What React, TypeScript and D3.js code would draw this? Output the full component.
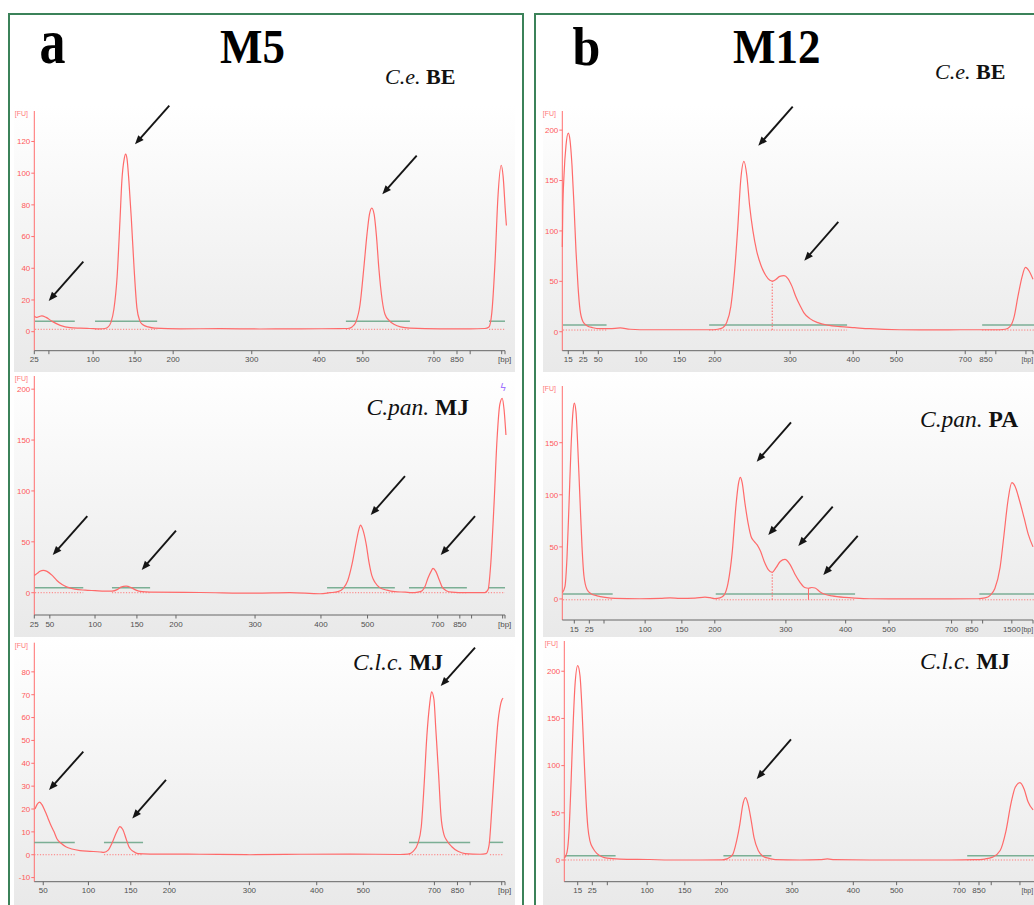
import React from "react";
import * as d3 from "d3";

type Pt = [number, number];
type Tick = [number, string];
type Win = [number, number];
type Arrow = [number, number, number, number];
type Split = [number, number, boolean];

// ---------------- data (x: migration position, % of run window; y: FU) ----------------
const xTicksA1: Tick[] = [[0, "25"], [3.1, ""], [12.5, "100"], [21.4, "150"], [29.5, "200"], [46.2, "300"], [60.5, "400"], [69.8, "500"], [84.9, "700"], [89.8, "850"], [92.6, ""], [99.3, ""]];
const xTicksA2: Tick[] = [[0, "25"], [3.3, "50"], [12.9, "100"], [21.8, "150"], [30.1, "200"], [46.9, "300"], [60.9, "400"], [70.8, "500"], [85.7, "700"], [90.4, "850"], [92.9, ""], [99.5, ""]];
const xTicksA3: Tick[] = [[1.9, "50"], [11.5, "100"], [20.5, "150"], [28.7, "200"], [45.7, "300"], [60.0, "400"], [69.9, "500"], [85.0, "700"], [89.9, "850"], [92.6, ""], [99.3, ""]];
const xTicksB1: Tick[] = [[1.27, "15"], [4.46, "25"], [7.65, "50"], [16.7, "100"], [24.9, "150"], [32.4, "200"], [48.4, "300"], [61.8, "400"], [71.0, "500"], [85.6, "700"], [90.0, "850"], [92.1, ""], [98.5, ""]];
const xTicksB2: Tick[] = [[2.55, "15"], [5.74, "25"], [8.86, ""], [17.6, "100"], [25.4, "150"], [32.4, "200"], [47.5, "300"], [60.2, "400"], [69.4, "500"], [82.7, "700"], [87.0, "850"], [89.3, ""], [95.5, "1500"]];
const xTicksB3: Tick[] = [[2.85, "15"], [5.95, "25"], [9.14, ""], [17.6, "100"], [25.6, "150"], [33.4, "200"], [48.4, "300"], [61.4, "400"], [70.6, "500"], [83.9, "700"], [88.1, "850"], [90.7, ""], [96.8, ""]];

const yTicksA1 = [0, 20, 40, 60, 80, 100, 120];
const yTicksA2 = [0, 50, 100, 150, 200];
const yTicksA3 = [-10, 0, 10, 20, 30, 40, 50, 60, 70, 80];
const yTicksB1 = [0, 50, 100, 150, 200];
const yTicksB2 = [0, 50, 100, 150];
const yTicksB3 = [0, 50, 100, 150, 200];

const yDomainA1: Pt = [-12, 136.7];
const yDomainA2: Pt = [-21.9, 209];
const yDomainA3: Pt = [-11.8, 91];
const yDomainB1: Pt = [-18.8, 215];
const yDomainB2: Pt = [-20.2, 200.6];
const yDomainB3: Pt = [-23, 227.8];

const traceA1: Pt[] = [[0, 10], [0.4, 9], [1.0, 9.5], [1.6, 10], [2.5, 9], [3.8, 6.5], [5.5, 4], [7.6, 2.5], [9.7, 2.2], [11.8, 2], [14.0, 1.8], [15.0, 2], [15.7, 3], [16.3, 6], [16.9, 14], [17.6, 35], [18.2, 70], [18.6, 95], [19.1, 109], [19.4, 112], [19.7, 109], [20.1, 95], [20.6, 72], [21.2, 40], [21.8, 15], [22.4, 7], [23.0, 4.5], [24.2, 3], [25.6, 2.2], [31.0, 1.8], [39.5, 1.9], [47.9, 1.7], [56.4, 1.8], [64.9, 1.9], [66.6, 2], [67.5, 3], [68.3, 6], [69.2, 17], [70.0, 40], [70.7, 62], [71.2, 74], [71.7, 78], [72.2, 74], [72.7, 60], [73.2, 40], [73.9, 20], [74.5, 11], [75.4, 7], [76.5, 4.5], [77.8, 3], [79.8, 2.2], [86.2, 1.8], [92.6, 1.8], [95.7, 2], [96.6, 3], [97.2, 12], [97.9, 45], [98.5, 85], [99.2, 105], [99.6, 98], [100.1, 75], [100.3, 67]];
const traceA2: Pt[] = [[0, 17], [0.6, 19], [1.2, 21], [1.9, 22], [2.7, 21], [3.8, 17], [4.8, 12], [5.9, 8], [7.0, 5.5], [8.6, 3.5], [10.8, 2.5], [12.9, 2], [15.0, 1.5], [16.5, 1.5], [17.6, 3], [18.4, 5.5], [19.5, 6.5], [20.6, 5], [21.6, 2.5], [22.9, 1], [24.6, 0.5], [35.2, 0.2], [46.9, -0.5], [54.3, 0], [60.7, -1], [62.8, 0], [64.5, 1], [65.6, 4], [66.6, 12], [67.5, 28], [68.4, 50], [69.0, 63], [69.3, 66.5], [69.8, 62], [70.5, 48], [71.1, 30], [71.7, 17], [72.4, 10], [73.4, 5], [74.9, 2.5], [76.6, 1], [78.8, 0.5], [80.2, 0], [81.5, 0.5], [82.4, 2], [83.0, 6], [83.6, 14], [84.3, 21], [84.7, 24], [85.3, 21], [86.0, 13], [86.6, 6], [87.5, 2], [88.7, 0.5], [91.5, 0], [95.7, 0], [96.4, 3], [97.0, 30], [97.7, 90], [98.3, 150], [98.9, 185], [99.4, 191], [99.8, 180], [100.2, 155]];
const traceA3: Pt[] = [[0.15, 20], [0.6, 22], [1.1, 23], [1.6, 22], [2.3, 19], [2.9, 16], [3.5, 13], [4.2, 10], [4.8, 7], [5.7, 5], [6.7, 3.5], [8.0, 2.5], [9.7, 1.8], [11.8, 1.5], [14.0, 1.2], [14.8, 1], [15.7, 2], [16.5, 5], [17.4, 9.5], [18.2, 12.3], [18.8, 11], [19.5, 7], [20.1, 3.5], [21.0, 1.5], [22.0, 0.5], [24.6, 0.3], [35.2, 0.2], [45.8, 0], [56.5, 0.2], [67.1, 0.3], [77.7, 0.1], [79.4, 0.3], [80.5, 1.5], [81.5, 5], [82.2, 12], [82.8, 30], [83.4, 52], [84.0, 66], [84.4, 71.3], [84.9, 68], [85.3, 55], [85.9, 35], [86.4, 17], [87.0, 9], [87.7, 6], [88.7, 3.5], [90.0, 1.5], [91.5, 0.5], [94.7, 0.2], [96.0, 0.5], [96.6, 4], [97.2, 20], [97.9, 42], [98.5, 58], [98.9, 64], [99.4, 68], [99.6, 68.5]];
const traceB1: Pt[] = [[0, 84], [0.1, 120], [0.36, 155], [0.79, 185], [1.27, 197], [1.64, 190], [2.06, 165], [2.49, 125], [2.91, 80], [3.34, 45], [3.76, 22], [4.4, 10], [5.25, 6], [6.5, 4], [8.0, 3], [10.1, 3], [12.3, 3.8], [14.4, 2.5], [18.6, 2], [25.0, 2], [31.3, 2], [33.0, 2.5], [34.1, 4], [34.9, 9], [35.8, 25], [36.6, 60], [37.3, 105], [37.9, 150], [38.6, 169], [39.2, 155], [39.8, 125], [40.5, 100], [41.3, 80], [42.2, 66], [43.2, 56], [44.1, 51], [44.6, 50.3], [45.4, 52], [46.2, 55], [47.1, 55.6], [47.9, 53], [48.8, 45], [49.6, 35], [50.5, 26], [51.3, 19], [52.6, 13], [54.3, 9], [56.4, 6.5], [59.0, 5], [62.1, 4], [65.3, 3], [71.7, 2], [78.1, 1.8], [84.5, 2], [91.9, 2], [94.1, 2.5], [95.1, 5], [96.0, 15], [96.8, 35], [97.7, 55], [98.4, 63.8], [99.2, 60], [100.0, 52]];
const traceB2: Pt[] = [[0.04, 6], [0.57, 12], [1.0, 40], [1.42, 90], [1.85, 145], [2.27, 180], [2.55, 188], [2.9, 180], [3.3, 145], [3.76, 95], [4.19, 50], [4.6, 22], [5.25, 9], [6.1, 5], [7.4, 3], [9.1, 1.5], [11.2, 0.5], [16.5, 0.2], [20.8, 0.5], [22.9, 1], [25.0, 0.5], [28.2, 0.8], [30.3, 1.8], [31.4, 1.2], [32.4, 0.3], [33.5, 1], [34.4, 4], [35.2, 15], [36.1, 45], [36.9, 90], [37.4, 110], [37.8, 116.8], [38.2, 112], [38.8, 92], [39.5, 72], [40.1, 60], [40.8, 55], [41.4, 52], [42.1, 46], [42.9, 36], [43.8, 28], [44.6, 25.6], [45.4, 30], [46.3, 36], [47.3, 38], [48.4, 33], [49.4, 24], [50.5, 16], [51.5, 11], [52.3, 10.3], [53.0, 11], [53.7, 10.5], [54.7, 7], [55.8, 4.5], [57.3, 3], [60.0, 1.5], [62.2, 0.8], [65.3, 0.2], [71.7, 0], [82.3, 0], [88.3, 0.2], [89.8, 1], [90.9, 3.5], [91.9, 10], [93.0, 30], [93.8, 60], [94.7, 95], [95.5, 111.6], [96.2, 108], [97.1, 95], [98.1, 78], [99.0, 62], [100.0, 50]];
const traceB3: Pt[] = [[0.04, 2], [0.57, 8], [1.0, 30], [1.42, 80], [1.85, 140], [2.27, 185], [2.85, 206], [3.34, 195], [3.76, 160], [4.19, 110], [4.6, 65], [5.0, 35], [5.46, 20], [6.16, 12], [6.9, 7], [8.0, 3.5], [9.07, 2], [11.8, 1], [18.2, 0.5], [22.4, 0], [28.8, 0], [33.5, 0.2], [34.7, 1.5], [35.8, 6], [36.6, 20], [37.3, 38], [37.9, 58], [38.5, 66], [39.0, 60], [39.7, 42], [40.3, 24], [41.2, 10], [42.2, 4], [43.7, 1.5], [44.8, 0.3], [50.0, 0], [54.3, 0.3], [55.9, 1.2], [57.4, 0.3], [64.9, 0], [81.9, 0], [87.2, 0.3], [89.3, 1], [91.0, 3], [92.6, 10], [93.8, 30], [94.9, 60], [95.8, 77], [96.8, 82], [97.7, 75], [98.5, 62], [99.6, 53]];

const windowsA1: Win[] = [[0.15, 8.6], [12.9, 26.1], [66.2, 79.8], [96.6, 100]];
const windowsA2: Win[] = [[0.15, 10.4], [16.5, 24.6], [62.2, 76.6], [79.6, 91.9], [96.4, 100]];
const windowsA3: Win[] = [[0, 8.6], [14.8, 23.1], [79.6, 92.6], [96.8, 99.6]];
const windowsB1: Win[] = [[0.15, 9.4], [31.2, 60.5], [89.2, 101]];
const windowsB2: Win[] = [[0.15, 10.7], [32.6, 62.2], [88.6, 101]];
const windowsB3: Win[] = [[0.15, 10.9], [33.8, 44.0], [85.6, 101]];

const splitsB1: Split[] = [[44.6, 50.3, true]];
const splitsB2: Split[] = [[44.6, 25.6, true], [52.3, 10.3, false]];

const arrowsA1: Arrow[] = [[10.41, 44.2, 3.06, 19.4], [28.68, 142.6, 21.39, 118.2], [81.24, 111.0, 73.93, 86.7]];
const arrowsA2: Arrow[] = [[11.26, 75.3, 3.91, 37.0], [30.1, 60.9, 22.82, 22.3], [78.75, 114.6, 71.47, 76.3], [93.63, 75.3, 86.34, 37.0]];
const arrowsA3: Arrow[] = [[10.41, 45.1, 3.12, 28.3], [27.98, 32.7, 20.82, 15.9], [93.63, 90.6, 86.34, 73.8]];
const arrowsB1: Arrow[] = [[48.95, 223.2, 41.64, 184.5], [58.64, 109.1, 51.41, 70.4]];
const arrowsB2: Arrow[] = [[48.59, 169.6, 41.3, 131.8], [51.07, 98.8, 43.76, 61.4], [57.45, 88.6, 50.14, 50.9], [62.76, 60.5, 55.45, 23.0]];
const arrowsB3: Arrow[] = [[48.16, 127.9, 40.88, 85.8]];

// ---------------- layout ----------------
const PLOT_W = 470.7;
const SERIF = "'Liberation Serif', 'Times New Roman', serif";
const SANS = "'Liberation Sans', Arial, sans-serif";
const TRACE = "#ff6a6a";

interface PlotCfg {
  key: string;
  left: number; top: number; bottom: number;
  bg: [number, number, number, number];
  yDomain: Pt; yTicks: number[]; xTicks: Tick[];
  trace: Pt[]; windows: Win[]; greenFU: number; baseFU: number;
  splits: Split[]; arrows: Arrow[];
  species: string; site: string; lx: number; ly: number; lsize: number;
  marker?: Pt;
}

const plots: PlotCfg[] = [
  { key: "a1", left: 34.3, top: 115, bottom: 350.7, bg: [14, 105, 501, 267], yDomain: yDomainA1, yTicks: yTicksA1, xTicks: xTicksA1, trace: traceA1, windows: windowsA1, greenFU: 6.6, baseFU: 1.5, splits: [], arrows: arrowsA1, species: "C.e.", site: "BE", lx: 385, ly: 84, lsize: 22 },
  { key: "a2", left: 34.3, top: 380, bottom: 615, bg: [14, 372, 501, 265], yDomain: yDomainA2, yTicks: yTicksA2, xTicks: xTicksA2, trace: traceA2, windows: windowsA2, greenFU: 4.9, baseFU: 0, splits: [], arrows: arrowsA2, species: "C.pan.", site: "MJ", lx: 366.5, ly: 415, lsize: 23.5, marker: [99.6, 198] },
  { key: "a3", left: 34.3, top: 646.7, bottom: 881.7, bg: [14, 637, 501, 268], yDomain: yDomainA3, yTicks: yTicksA3, xTicks: xTicksA3, trace: traceA3, windows: windowsA3, greenFU: 5.4, baseFU: 0, splits: [], arrows: arrowsA3, species: "C.l.c.", site: "MJ", lx: 353, ly: 670, lsize: 23.5 },
  { key: "b1", left: 562.3, top: 115, bottom: 350.7, bg: [543, 105, 500, 267], yDomain: yDomainB1, yTicks: yTicksB1, xTicks: xTicksB1, trace: traceB1, windows: windowsB1, greenFU: 6.6, baseFU: 1.7, splits: splitsB1, arrows: arrowsB1, species: "C.e.", site: "BE", lx: 935, ly: 79, lsize: 22 },
  { key: "b2", left: 562.3, top: 390, bottom: 620, bg: [543, 372, 500, 265], yDomain: yDomainB2, yTicks: yTicksB2, xTicks: xTicksB2, trace: traceB2, windows: windowsB2, greenFU: 4.8, baseFU: -0.8, splits: splitsB2, arrows: arrowsB2, species: "C.pan.", site: "PA", lx: 920, ly: 426.5, lsize: 23.5 },
  { key: "b3", left: 564.3, top: 645, bottom: 881.7, bg: [543, 637, 500, 268], yDomain: yDomainB3, yTicks: yTicksB3, xTicks: xTicksB3, trace: traceB3, windows: windowsB3, greenFU: 4.6, baseFU: 0, splits: [], arrows: arrowsB3, species: "C.l.c.", site: "MJ", lx: 920, ly: 669, lsize: 23.5 },
];

function ArrowMark({ x1, y1, x2, y2 }: { x1: number; y1: number; x2: number; y2: number }) {
  const dx = x2 - x1, dy = y2 - y1;
  const len = Math.hypot(dx, dy);
  const ux = dx / len, uy = dy / len;
  const px = -uy, py = ux;
  const hl = 9, hw = 3.6;
  const bx = x2 - ux * hl, by = y2 - uy * hl;
  const head = `M${x2},${y2} L${bx + px * hw},${by + py * hw} L${bx - px * hw},${by - py * hw} Z`;
  return (
    <g>
      <line x1={x1} y1={y1} x2={x2 - ux * 6} y2={y2 - uy * 6} stroke="#151515" strokeWidth={1.9} />
      <path d={head} fill="#151515" />
    </g>
  );
}

function Subplot({ p }: { p: PlotCfg }) {
  const x = d3.scaleLinear().domain([0, 100]).range([p.left, p.left + PLOT_W]);
  const y = d3.scaleLinear().domain(p.yDomain).range([p.bottom, p.top]);
  const line = d3.line<Pt>().x((d) => x(d[0])).y((d) => y(d[1])).curve(d3.curveMonotoneX);
  const nearEdge = x(100) - 7 > 1020;
  const bpX = nearEdge ? 1021.5 : x(100) - 7;
  const bpSize = nearEdge ? 7 : 8;
  return (
    <g>
      <rect x={p.bg[0]} y={p.bg[1]} width={p.bg[2]} height={p.bg[3]} fill="url(#bgGrad)" />
      {/* y axis */}
      <text x={p.left - 19.5} y={p.top + 1} fontSize={7} fill="#ff7a7a" fontFamily={SANS}>[FU]</text>
      <line x1={p.left} x2={p.left} y1={p.top - 4} y2={p.bottom} stroke="#ff6f6f" strokeWidth={1} />
      {p.yTicks.map((t) => (
        <g key={t}>
          <line x1={p.left - 3} x2={p.left} y1={y(t)} y2={y(t)} stroke="#ff6f6f" strokeWidth={1} />
          <text x={p.left - 4} y={y(t) + 2.8} fontSize={8} textAnchor="end" fill="#ff5a5a" fontFamily={SANS}>{t}</text>
        </g>
      ))}
      {/* x axis */}
      <line x1={p.left} x2={x(100)} y1={p.bottom} y2={p.bottom} stroke="#666" strokeWidth={1} />
      {p.xTicks.map(([u, lab], i) => (
        <g key={i}>
          <line x1={x(u)} x2={x(u)} y1={p.bottom} y2={p.bottom + 3.5} stroke="#666" strokeWidth={1} />
          {lab && (
            <text x={x(u)} y={p.bottom + 11.5} fontSize={8} textAnchor="middle" fill="#505050" fontFamily={SANS}>{lab}</text>
          )}
        </g>
      ))}
      <line x1={x(100)} x2={x(100)} y1={p.bottom} y2={p.bottom + 3.5} stroke="#666" strokeWidth={1} />
      <text x={bpX} y={p.bottom + 11.5} fontSize={bpSize} fill="#505050" fontFamily={SANS}>[bp]</text>
      {/* peak windows */}
      {p.windows.map(([a, b], i) => (
        <g key={i}>
          <line x1={x(a)} x2={x(b)} y1={y(p.baseFU)} y2={y(p.baseFU)} stroke="#ff7a7a" strokeWidth={1} strokeDasharray="1.2,1.6" />
          <line x1={x(a)} x2={x(b)} y1={y(p.greenFU)} y2={y(p.greenFU)} stroke="#6fa98c" strokeWidth={1.5} opacity={0.9} />
        </g>
      ))}
      {p.splits.map(([u, top, dotted], i) => (
        <line key={i} x1={x(u)} x2={x(u)} y1={y(p.baseFU)} y2={y(top)} stroke="#ff6a6a" strokeWidth={1} strokeDasharray={dotted ? "1.5,1.5" : undefined} />
      ))}
      {/* trace */}
      <path d={line(p.trace) || ""} fill="none" stroke={TRACE} strokeWidth={1.2} />
      {p.marker && (
        <text x={x(p.marker[0])} y={y(p.marker[1])} fontSize={10} textAnchor="middle" fill="#9f72ff" fontFamily={SANS}>ϟ</text>
      )}
      {p.arrows.map(([tu, tf, hu, hf], i) => (
        <ArrowMark key={i} x1={x(tu)} y1={y(tf)} x2={x(hu)} y2={y(hf)} />
      ))}
      <text x={p.lx} y={p.ly} fontSize={p.lsize} fontFamily={SERIF} fill="#111">
        <tspan fontStyle="italic">{p.species}</tspan>
        <tspan fontWeight="bold">{" " + p.site}</tspan>
      </text>
    </g>
  );
}

export default function App() {
  return (
    <svg width={1034} height={905} style={{ position: "absolute", left: 0, top: 0, background: "#fff" }}>
      <defs>
        <linearGradient id="bgGrad" x1="0" y1="0" x2="0" y2="1">
          <stop offset="0" stopColor="#ffffff" />
          <stop offset="1" stopColor="#e9e9e9" />
        </linearGradient>
      </defs>
      <rect x={0} y={0} width={1034} height={905} fill="#fff" />
      {plots.map((p) => (
        <Subplot key={p.key} p={p} />
      ))}
      {/* panel frames */}
      <rect x={9} y={14} width={514} height={1000} fill="none" stroke="#3b8259" strokeWidth={2} />
      <rect x={535} y={14} width={600} height={1000} fill="none" stroke="#3b8259" strokeWidth={2} />
      {/* titles */}
      <text transform="translate(39.5,62.7) scale(1,1.22)" fontSize={52} fontWeight="bold" fontFamily={SERIF} fill="#000">a</text>
      <text transform="translate(220,63) scale(1,1.07)" fontSize={45} fontWeight="bold" fontFamily={SERIF} fill="#000">M5</text>
      <text transform="translate(572.5,65) scale(1,1.08)" fontSize={50} fontWeight="bold" fontFamily={SERIF} fill="#000">b</text>
      <text transform="translate(733,63.3) scale(1,1.07)" fontSize={45} fontWeight="bold" fontFamily={SERIF} fill="#000">M12</text>
    </svg>
  );
}
